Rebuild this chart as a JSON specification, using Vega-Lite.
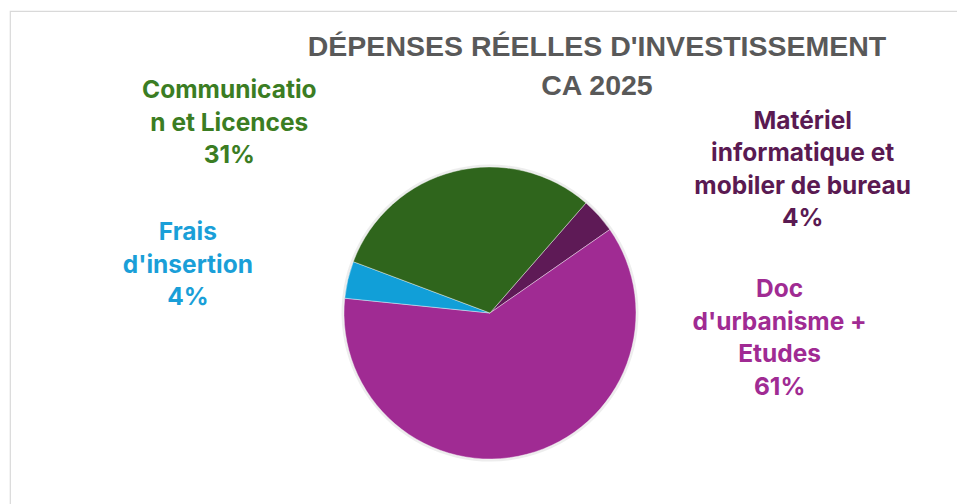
{
  "$schema": "https://vega.github.io/schema/vega-lite/v6.json",
  "width": 960,
  "height": 604,
  "autosize": {"type": "none"},
  "padding": {"left": 10, "top": 11, "right": 0, "bottom": 0},
  "background": "white",
  "view": {"stroke": "#d9d9d9", "strokeWidth": 1.2},
  "config": {"view": {"stroke": "#d9d9d9", "strokeWidth": 1.2}},
  "title": {
    "text": ["DÉPENSES RÉELLES D'INVESTISSEMENT", "CA 2025"],
    "font": "Liberation Sans",
    "fontSize": 28.5,
    "fontWeight": "bold",
    "color": "#595959",
    "lineHeight": 39,
    "anchor": "middle",
    "dx": 107,
    "dy": 84,
    "baseline": "top",
    "offset": -22
  },
  "data": {
    "values": [
      {"category": "Matériel informatique et mobiler de bureau", "value": 3.9, "idx": 1, "lines": ["Matériel", "informatique et", "mobiler de bureau", "4%"]},
      {"category": "Doc d'urbanisme + Etudes", "value": 61.3, "idx": 2, "lines": ["Doc", "d'urbanisme +", "Etudes", "61%"]},
      {"category": "Frais d'insertion", "value": 4.1, "idx": 3, "lines": ["Frais", "d'insertion", "4%"]},
      {"category": "Communication et Licences", "value": 30.7, "idx": 4, "lines": ["Communicatio", "n et Licences", "31%"]}
    ]
  },
  "encoding": {
    "theta": {"field": "value", "type": "quantitative", "stack": true, "scale": {"range": [0.7173, 7.0005]}},
    "order": {"field": "idx", "type": "quantitative"},
    "color": {
      "field": "category",
      "type": "nominal",
      "scale": {
        "domain": ["Matériel informatique et mobiler de bureau", "Doc d'urbanisme + Etudes", "Frais d'insertion", "Communication et Licences"],
        "range": ["#5E1A56", "#A02B93", "#119FD8", "#2F651C"]
      },
      "legend": null
    }
  },
  "layer": [
    {"mark": {"type": "arc", "outerRadius": 148.5, "fill": "#000000", "opacity": 0.07, "stroke": null}},
    {"mark": {"type": "arc", "outerRadius": 146, "stroke": "#ffffff", "strokeWidth": 0.4}},
    {
      "mark": {"type": "text", "radius": 146, "dx": 204, "dy": -94, "font": "Inter", "fontSize": 24.5, "fontWeight": "bold", "lineHeight": 32.5, "align": "center", "baseline": "middle"},
      "encoding": {"text": {"condition": {"test": "datum.idx == 1", "field": "lines"}, "value": ""}, "color": {"value": "#5A1A52"}}
    },
    {
      "mark": {"type": "text", "radius": 146, "dx": 253, "dy": -164, "font": "Inter", "fontSize": 24.5, "fontWeight": "bold", "lineHeight": 32.5, "align": "center", "baseline": "middle"},
      "encoding": {"text": {"condition": {"test": "datum.idx == 2", "field": "lines"}, "value": ""}, "color": {"value": "#A02B93"}}
    },
    {
      "mark": {"type": "text", "radius": 146, "dx": -160, "dy": -46.5, "font": "Inter", "fontSize": 24.5, "fontWeight": "bold", "lineHeight": 32.5, "align": "center", "baseline": "middle"},
      "encoding": {"text": {"condition": {"test": "datum.idx == 3", "field": "lines"}, "value": ""}, "color": {"value": "#1A9FD8"}}
    },
    {
      "mark": {"type": "text", "radius": 146, "dx": -225, "dy": -80, "font": "Inter", "fontSize": 24.5, "fontWeight": "bold", "lineHeight": 32.5, "align": "center", "baseline": "middle"},
      "encoding": {"text": {"condition": {"test": "datum.idx == 4", "field": "lines"}, "value": ""}, "color": {"value": "#3B7D23"}}
    }
  ]
}
